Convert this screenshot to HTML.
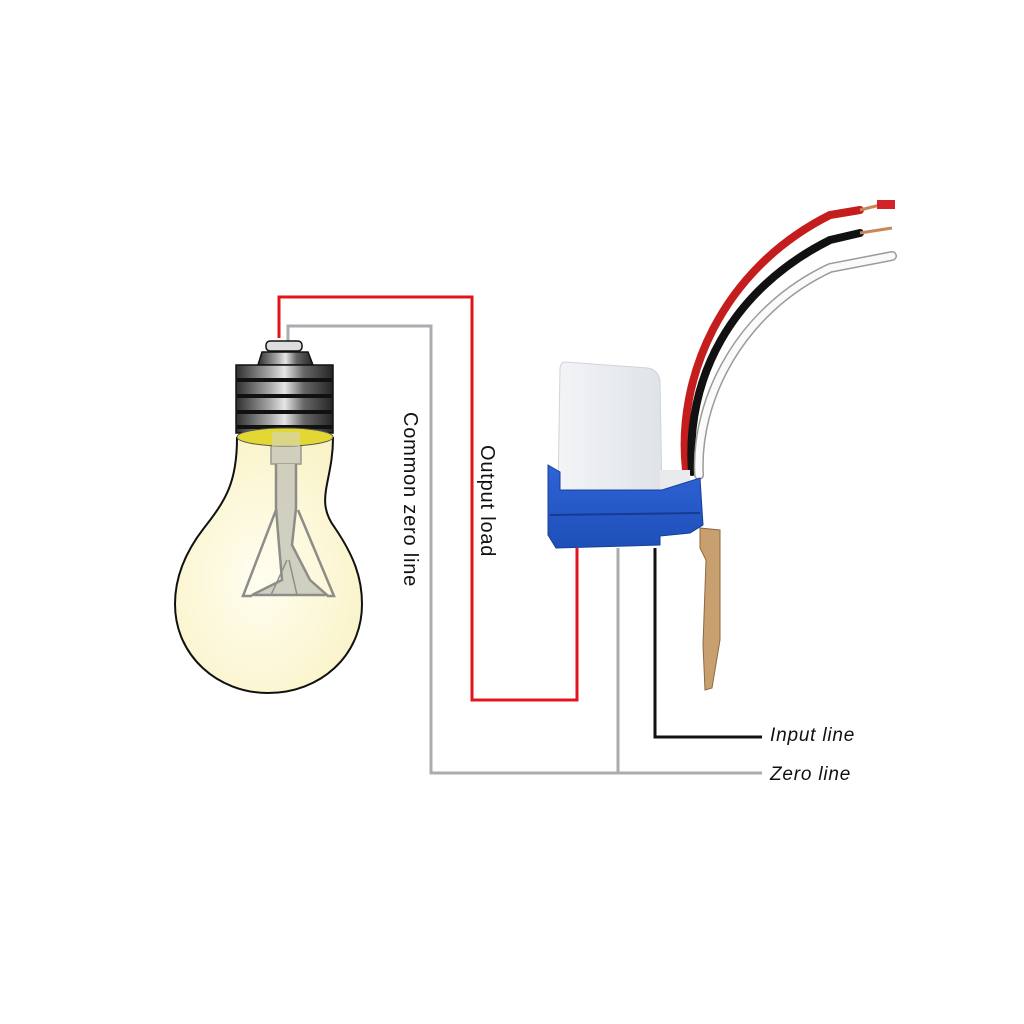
<!DOCTYPE html>
<html><head><meta charset="utf-8"><style>
html,body{margin:0;padding:0;background:#fff;}
svg{display:block;}
text{font-family:"Liberation Sans",sans-serif;}
</style></head><body>
<svg width="1024" height="1024" viewBox="0 0 1024 1024" xmlns="http://www.w3.org/2000/svg">
<defs>
<linearGradient id="thr" x1="0" x2="1" y1="0" y2="0">
<stop offset="0" stop-color="#2e2e2e"/><stop offset="0.35" stop-color="#a8a8a8"/><stop offset="0.5" stop-color="#e6e6e6"/><stop offset="0.7" stop-color="#666"/><stop offset="1" stop-color="#252525"/>
</linearGradient>
<radialGradient id="glass" cx="0.45" cy="0.55" r="0.6">
<stop offset="0" stop-color="#fffef0"/><stop offset="1" stop-color="#faf3c8"/>
</radialGradient>
<linearGradient id="cap" x1="0" x2="1"><stop offset="0" stop-color="#f2f4f6"/><stop offset="1" stop-color="#dfe3e8"/></linearGradient>
<linearGradient id="blue" x1="0" x2="0" y1="0" y2="1"><stop offset="0" stop-color="#2f64d8"/><stop offset="1" stop-color="#1e4fb8"/></linearGradient>
</defs>

<polyline points="279,338 279,297 472,297 472,700 577,700 577,548" fill="none" stroke="#e3151c" stroke-width="3"/>
<polyline points="288,342 288,326 431,326 431,773 762,773" fill="none" stroke="#a9acb1" stroke-width="3"/>
<line x1="618" y1="548" x2="618" y2="773" stroke="#a9acb1" stroke-width="3"/>
<polyline points="655,548 655,737 762,737" fill="none" stroke="#111" stroke-width="3"/>

<path d="M237,438 C237,482 226,500 204,528 C183,555 175,580 175,604 C175,656 218,693 268,693 C320,693 362,656 362,604 C362,578 354,556 335,528 C314,500 333,482 333,438 Z" fill="url(#glass)" stroke="#111" stroke-width="2"/>
<g fill="none" stroke="#7a7a7a" stroke-width="3" opacity="0.85">
<rect x="271" y="432" width="30" height="32" fill="#c9c9bb" stroke="#888" stroke-width="1.5"/>
<path d="M276,464 L276,508 L279,545 L282,580 L252,595 L302,595 L327,595 L310,580 L292,545 L296,508 L296,464" fill="#c9c9bb" stroke-width="2.5"/>
<path d="M287,560 L271,595 M289,560 L297,595" stroke-width="1.5"/>
<path d="M252,596 L243,596 L276,510 M327,596 L334,596 L298,510" stroke-width="2.5"/>
</g>
<rect x="266" y="341" width="36" height="10" rx="4" fill="#ddd" stroke="#111" stroke-width="1.5"/>
<path d="M258,365 L262,352 L308,352 L313,365 Z" fill="url(#thr)" stroke="#111" stroke-width="1.5"/>
<rect x="236" y="365" width="97" height="68" fill="url(#thr)" stroke="#111" stroke-width="1.5"/>
<g stroke="#111" stroke-width="4">
<line x1="237" y1="380" x2="332" y2="380"/><line x1="237" y1="396" x2="332" y2="396"/><line x1="237" y1="412" x2="332" y2="412"/><line x1="237" y1="427" x2="332" y2="427"/>
</g>
<ellipse cx="285" cy="437" rx="48" ry="9" fill="#e3d833" stroke="#555" stroke-width="1"/>
<rect x="272" y="432" width="28" height="14" fill="#d8d4a0" opacity="0.8"/>

<text x="0" y="0" font-size="20" letter-spacing="0.8" fill="#111" transform="translate(404,412) rotate(90)">Common zero line</text>
<text x="0" y="0" font-size="20" letter-spacing="0.8" fill="#111" transform="translate(481,445) rotate(90)">Output load</text>

<path d="M686,470 C676,380 720,270 830,215 L860,210" fill="none" stroke="#c51d1d" stroke-width="8" stroke-linecap="round"/>
<path d="M692,472 C685,380 730,290 830,240 L860,233" fill="none" stroke="#111" stroke-width="8" stroke-linecap="round"/>
<path d="M699,475 C695,400 740,310 830,268 L892,256" fill="none" stroke="#9a9a9a" stroke-width="10" stroke-linecap="round"/>
<path d="M699,475 C695,400 740,310 830,268 L892,256" fill="none" stroke="#fafafa" stroke-width="7" stroke-linecap="round"/>
<path d="M860,210 L880,205 M860,233 L892,228" stroke="#c8875a" stroke-width="3"/>
<rect x="877" y="200" width="18" height="9" fill="#d2232a"/>
<path d="M700,528 L720,530 L720,640 L712,688 L705,690 L703,645 L706,560 L700,548 Z" fill="#c8a070" stroke="#8a6a40" stroke-width="1"/>
<path d="M565,362 L648,368 Q658,370 660,380 L662,495 L558,495 L560,368 Q561,362 565,362 Z" fill="url(#cap)" stroke="#d0d4d8"/>
<rect x="660" y="470" width="30" height="25" fill="#e8eaee"/>
<path d="M548,465 L560,472 L560,490 L662,490 L700,478 L703,525 L690,533 L660,536 L660,545 L556,548 L548,535 Z" fill="url(#blue)" stroke="#173f95" stroke-width="1"/>
<line x1="550" y1="515" x2="700" y2="513" stroke="#163c90" stroke-width="2"/>

<text x="770" y="741" font-size="19" letter-spacing="0.8" font-style="italic" fill="#111">Input line</text>
<text x="770" y="780" font-size="19" letter-spacing="0.8" font-style="italic" fill="#111">Zero line</text>
</svg>
</body></html>
